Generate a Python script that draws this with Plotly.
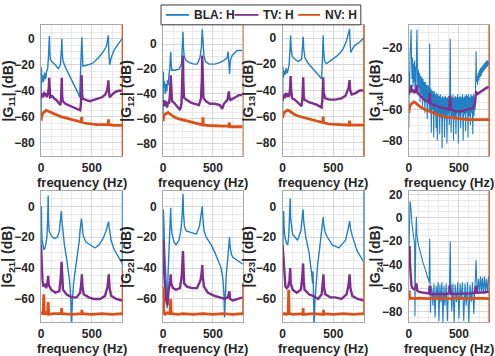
import plotly.graph_objects as go

# ---------------- data (frequency Hz, magnitude dB) ----------------
G11_BLA = [(0,-62),(3,-22),(8,-34),(15,-28),(25,-33),(35,-26),(45,-31),(55,-25),(65,-23),(72,-15),
           (78,-3),(82,2),(86,-10),(92,-16),(110,-18),(140,-20),(170,-23),(190,-20),(200,-9),(205,0),
           (209,-10),(215,-17),(240,-22),(280,-28),(320,-34),(360,-41),(380,-45),(390,-30),(396,-10),(402,1),
           (406,-12),(412,-21),(424,-21),(470,-20),(506,-19),(560,-15),(604,-11),(643,-6),(657,-1),(663,2.5),
           (668,-12),(676,-20),(690,-15),(718,-9),(760,-4),(800,0)]
G11_TV = [(0,-46),(10,-42),(20,-45),(30,-41),(40,-44),(50,-42),(60,-45),(70,-41),(76,-38),(80,-30),(84,-40),
          (90,-45),(110,-44),(130,-46),(150,-47),(170,-49),(190,-51),(198,-45),(204,-30),(208,-44),(214,-48),
          (240,-50),(270,-51),(300,-52),(330,-53),(360,-54),(385,-55),(393,-50),(400,-28),(404,-42),(410,-46),
          (440,-47),(480,-48),(520,-47),(560,-46),(600,-45),(630,-43),(650,-40),(658,-36),(663,-32),(668,-40),
          (676,-45),(700,-43),(730,-41),(760,-40),(800,-40)]
G11_NV = [(0,-63),(8,-59),(20,-57),(35,-56),(50,-55),(65,-55.5),(80,-56),(100,-57),(130,-58),(160,-59),
          (200,-60),(250,-61),(300,-62),(350,-63),(396,-64),(400,-60),(404,-64),(450,-65),(500,-65.5),
          (560,-66),(620,-66),(660,-66),(664,-62),(668,-66),(720,-66.5),(800,-66.5)]

G12_BLA = [(0,-62),(3,-22),(8,-35),(15,-30),(22,-40),(30,-32),(38,-38),(45,-29),(52,-33),(60,-24),(68,-20),
           (74,-10),(77,-6),(81,-15),(88,-21),(120,-21),(160,-20),(185,-16),(193,-5),(200,10),(205,-3),
           (212,-10),(230,-13),(270,-15),(310,-16),(343,-16),(370,-11),(385,-2),(393,12),(400,0),(410,-9),
           (425,-14),(460,-16),(520,-16),(560,-15),(610,-13),(643,-11),(653,-6),(660,-12),(667,-24),(675,-13),
           (693,-9),(743,-5),(800,-5)]
G12_TV = [(0,-50),(10,-45),(20,-50),(30,-46),(40,-51),(50,-47),(60,-48),(70,-40),(77,-25),(82,-40),(90,-46),
          (110,-47),(140,-50),(170,-53),(185,-48),(194,-30),(200,-9),(204,-30),(210,-43),(240,-45),(280,-47),
          (320,-48),(360,-49),(380,-44),(389,-30),(393,-9),(397,-30),(405,-43),(430,-46),(470,-48),(520,-48),
          (570,-49),(593,-52),(610,-48),(645,-45),(655,-41),(660,-38),(666,-43),(677,-45),(720,-43),(760,-41),
          (800,-41)]
G12_NV = [(0,-62),(8,-58),(20,-56.5),(35,-55.5),(50,-55),(65,-56),(80,-57),(110,-58.5),(150,-60),(200,-61),
          (250,-62),(300,-63.5),(350,-64.5),(396,-65),(400,-59),(404,-65),(450,-65.5),(520,-66),(600,-66),
          (660,-66),(664,-63),(668,-66.5),(720,-66.5),(800,-66.5)]

G13_BLA = [(0,-56),(3,-22),(8,-30),(15,-25),(25,-28),(35,-23),(45,-27),(55,-24),(65,-20),(72,-10),(79,2),
           (84,-8),(95,-14),(120,-16),(154,-18),(187,-16),(197,-6),(203,1),(208,-8),(220,-15),(250,-19),
           (285,-22),(320,-25),(351,-28),(384,-31),(393,-15),(400,2),(405,-10),(415,-18),(433,-19.5),(480,-17),
           (531,-14),(570,-11),(597,-8),(630,-2),(645,4),(660,7),(666,-5),(672,-11),(690,-8),(712,-5.5),
           (760,-3),(800,0)]
G13_TV = [(0,-48),(10,-43),(20,-46),(30,-42),(40,-45),(50,-42),(60,-45),(70,-42),(75,-36),(79,-29),(84,-40),
          (95,-46),(120,-47),(150,-49),(187,-52),(196,-45),(203,-30),(208,-44),(215,-47),(260,-49),(300,-50),
          (340,-51),(384,-53),(393,-46),(400,-30),(405,-42),(420,-46),(460,-47),(520,-47),(580,-46),(620,-44),
          (650,-38),(660,-32),(666,-40),(680,-43),(720,-42),(760,-40),(800,-40)]
G13_NV = [(0,-61),(8,-58),(20,-56.5),(35,-55.5),(50,-55),(65,-55.5),(80,-56.5),(110,-58),(150,-59.5),
          (200,-60.5),(250,-61.5),(300,-62.5),(350,-63.5),(396,-64.5),(400,-60),(404,-64.5),(450,-65.5),
          (520,-66),(600,-66.5),(656,-66.5),(660,-63),(664,-66.5),(720,-66.5),(800,-66.5)]

G14_BLA = [(0,-72),(3,-35),(7,-50),(12,-25),(18,-15),(23,-8),(27,-28),(32,-40),(37,-26),(42,-45),(47,-30),
           (52,-42),(57,-28),(62,-48),(67,-32),(72,-45),(77,-20),(81,-8),(85,-30),(90,-50),(95,-34),(100,-46),
           (106,-36),(112,-55),(118,-38),(124,-50),(130,-39),(136,-58),(142,-40),(148,-52),(154,-42),(160,-62),
           (166,-42),(172,-55),(178,-44),(184,-66),(190,-44),(196,-56),(200,-45),(204,-60),(208,-17),(212,-62),
           (218,-46),(224,-75),(230,-47),(236,-60),(242,-48),(248,-78),(254,-48),(260,-62),(266,-50),(272,-72),
           (278,-49),(284,-80),(290,-50),(296,-63),(302,-51),(308,-76),(314,-50),(320,-65),(326,-52),(332,-85),
           (338,-51),(344,-64),(350,-52),(356,-78),(362,-51),(368,-66),(374,-52),(380,-82),(386,-52),(392,-63),
           (398,-51),(404,-70),(409,-50),(413,-14),(417,-55),(422,-75),(428,-52),(434,-64),(440,-50),(446,-80),
           (452,-52),(458,-65),(464,-51),(470,-76),(476,-52),(482,-62),(488,-50),(494,-82),(500,-52),(506,-64),
           (512,-51),(518,-72),(524,-52),(530,-62),(536,-50),(542,-80),(548,-52),(554,-63),(560,-51),(566,-74),
           (572,-50),(578,-62),(584,-51),(590,-78),(596,-50),(602,-64),(608,-52),(614,-70),(620,-50),(626,-62),
           (632,-51),(638,-76),(644,-50),(650,-64),(656,-52),(662,-60),(667,-40),(671,-22),(675,-42),(680,-38),
           (686,-44),(692,-36),(698,-41),(704,-34),(710,-39),(716,-33),(722,-38),(728,-32),(734,-36),(740,-31),
           (746,-35),(752,-30),(758,-34),(764,-29),(770,-33),(776,-28),(782,-32),(788,-28),(794,-31),(800,-29)]
G14_TV = [(0,-50),(8,-47),(15,-49),(23,-44),(30,-48),(40,-47),(50,-49),(60,-48),(70,-49),(80,-44),(86,-49),
          (100,-50),(130,-52),(160,-54),(200,-55),(208,-49),(214,-56),(250,-57),(300,-58),(350,-59),(400,-60),
          (413,-51),(420,-60),(460,-61),(520,-61),(580,-60),(640,-59),(660,-56),(671,-48),(680,-50),(700,-49),
          (740,-47),(770,-46),(800,-45)]
G14_NV = [(0,-62),(8,-58),(20,-56.5),(35,-55.5),(50,-55),(65,-55.5),(80,-56.5),(110,-58),(150,-59.5),
          (200,-61),(250,-62.5),(300,-63.5),(350,-64.5),(400,-65),(450,-65.5),(520,-66),(600,-66.5),
          (700,-66.5),(800,-66.5)]

G21_BLA = [(0,-30),(3,0),(6,-15),(10,-22),(18,-26),(28,-28),(40,-27),(50,-24),(58,-20),(64,-10),(70,7),
           (74,-10),(80,-16),(100,-19),(130,-21),(160,-20),(180,-16),(192,-8),(200,-3),(206,-10),(215,-18),
           (230,-25),(250,-33),(265,-40),(280,-48),(292,-58),(300,-80),(308,-62),(320,-50),(340,-40),(360,-31),
           (375,-23),(388,-13),(398,-8),(404,-12),(415,-19),(440,-23),(480,-25),(530,-27),(570,-25),(610,-21),
           (640,-16),(655,-12),(665,-10),(672,-14),(690,-22),(720,-28),(760,-33),(800,-37)]
G21_TV = [(0,-25),(4,-32),(8,-42),(14,-48),(22,-52),(35,-50),(50,-53),(62,-50),(70,-45),(76,-51),(100,-54),
          (140,-56),(180,-55),(194,-46),(202,-36),(208,-48),(216,-54),(250,-57),(300,-59),(350,-59),(385,-56),
          (396,-50),(402,-44),(408,-52),(420,-57),(470,-59),(520,-60),(580,-60),(630,-58),(655,-52),(667,-44),
          (675,-53),(690,-58),(740,-60),(800,-61)]
G21_NV = [(0,-70),(10,-69),(20,-70),(27,-57),(32,-70),(50,-69),(65,-70),(70,-62),(75,-70),(120,-69.5),
          (200,-69.5),(203,-66),(206,-69.5),(300,-70),(400,-69.5),(402,-67),(404,-69.5),(500,-70),(600,-69.5),
          (700,-70),(800,-69.5)]

G22_BLA = [(0,-30),(4,-2),(8,-10),(14,-25),(22,-35),(30,-45),(38,-58),(43,-66),(50,-45),(60,-28),(70,-12),
           (77,-1),(82,-12),(90,-18),(110,-23),(130,-25),(160,-22),(180,-15),(192,-5),(200,8),(206,-5),
           (215,-13),(233,-16),(280,-17),(333,-18),(365,-13),(382,-6),(393,0),(400,-8),(412,-16),(433,-20),
           (483,-25),(520,-30),(550,-35),(583,-40),(600,-47),(610,-56),(617,-72),(625,-55),(633,-45),(650,-33),
           (660,-24),(666,-20),(672,-26),(685,-31),(700,-33),(740,-35),(800,-37.5)]
G22_TV = [(0,-35),(5,-22),(9,-40),(16,-50),(25,-58),(35,-62),(45,-64),(55,-55),(65,-52),(72,-48),(77,-44),
          (82,-50),(100,-53),(130,-54),(170,-53),(188,-45),(200,-29),(205,-42),(212,-50),(240,-52),(290,-53),
          (340,-53),(375,-48),(388,-43),(393,-38),(398,-45),(410,-52),(450,-56),(516,-58),(570,-59),(617,-60),
          (650,-59),(660,-57),(666,-55),(672,-60),(700,-61),(750,-60),(800,-59)]
G22_NV = [(0,-70),(5,-52),(8,-69),(20,-70),(40,-69),(70,-69.5),(77,-60),(82,-69.5),(150,-70),(200,-69.5),
          (300,-70),(400,-69.5),(500,-70),(600,-69.5),(700,-70),(800,-69.5)]

G23_BLA = [(0,-35),(5,-10),(10,-3),(16,-15),(26,-21),(40,-24),(50,-25),(60,-20),(68,-10),(75,5),(80,-8),
           (98,-18),(147,-22),(180,-16),(192,-8),(202,-2),(208,-10),(229,-20),(261,-30),(278,-38),(290,-46),
           (296,-50),(300,-42),(304,-55),(310,-80),(318,-62),(330,-50),(345,-38),(360,-30),(375,-22),(392,-12),
           (400,-7),(406,-12),(420,-17),(441,-20),(490,-25),(555,-27),(620,-22),(645,-15),(660,-9.6),(668,-14),
           (686,-19),(735,-29),(770,-33),(800,-36)]
G23_TV = [(0,-25),(5,-30),(10,-40),(18,-48),(28,-52),(40,-53),(55,-52),(68,-48),(75,-40),(80,-50),(100,-54),
          (140,-56),(180,-54),(194,-46),(202,-37),(208,-48),(216,-54),(260,-57),(300,-58),(350,-60),(385,-57),
          (395,-50),(402,-44),(408,-52),(420,-57),(470,-59),(520,-59),(580,-60),(630,-57),(650,-51),(660,-44),
          (668,-53),(686,-58),(740,-60),(800,-61)]
G23_NV = [(0,-70),(20,-69.5),(40,-70),(55,-69),(60,-54),(65,-69.5),(100,-70),(200,-69.5),(202,-66),(205,-70),
          (300,-69.5),(400,-70),(402,-67),(405,-69.5),(500,-70),(600,-69.5),(700,-70),(800,-69.5)]

G24_BLA = [(0,-35),(6,5),(12,14),(18,11),(24,2),(32,-6),(42,-13),(52,-18),(58,-22),(61,-84),(64,-25),(70,-12),
           (76,1),(80,-14),(90,-21),(105,-27),(120,-32),(140,-38),(160,-43),(180,-48),(195,-52),(203,-55),
           (208,-18),(212,-58),(216,-81),(222,-58),(232,-62),(240,-75),(250,-56),(262,-85),(272,-58),(282,-70),
           (292,-55),(300,-88),(310,-57),(320,-72),(330,-55),(340,-90),(350,-58),(360,-75),(372,-56),(385,-88),
           (395,-58),(405,-62),(413,-20),(418,-58),(428,-80),(440,-56),(452,-90),(462,-57),(475,-72),(488,-55),
           (500,-86),(512,-56),(522,-70),(535,-55),(548,-88),(560,-56),(572,-75),(585,-55),(598,-90),(610,-57),
           (622,-72),(635,-55),(648,-82),(660,-58),(666,-50),(671,-36),(676,-52),(685,-65),(695,-52),(705,-64),
           (715,-50),(725,-63),(735,-51),(745,-65),(755,-50),(765,-63),(775,-52),(785,-64),(795,-50),(800,-55)]
G24_TV = [(0,-40),(5,-30),(8,-24),(12,-40),(18,-53),(26,-58),(36,-60),(50,-61),(66,-60),(76,-56),(82,-62),
          (100,-63),(150,-64),(200,-64.5),(208,-58),(214,-65),(260,-65),(320,-65),(380,-65),(408,-64),(413,-57),
          (418,-65),(480,-65),(540,-65),(600,-64.5),(660,-64),(671,-58),(678,-64),(720,-64),(760,-63.5),(800,-63)]
G24_NV = [(0,-69),(4,-62),(8,-69),(30,-68.5),(60,-69),(100,-68.5),(200,-69),(300,-68.5),(400,-69),
          (500,-68.5),(600,-69),(700,-68.5),(800,-69)]

PANEL_NAMES = ["11", "12", "13", "14", "21", "22", "23", "24"]
PANEL_DATA = [(G11_BLA, G11_TV, G11_NV), (G12_BLA, G12_TV, G12_NV), (G13_BLA, G13_TV, G13_NV),
              (G14_BLA, G14_TV, G14_NV), (G21_BLA, G21_TV, G21_NV), (G22_BLA, G22_TV, G22_NV),
              (G23_BLA, G23_TV, G23_NV), (G24_BLA, G24_TV, G24_NV)]
Y_RANGES = [[-90, 10.5], [-90, 15.5], [-90, 10], [-90, -5], [-75, 10], [-75, 10], [-75, 10], [-89, 23]]
X_RANGE = [0, 800]
SERIES = ["BLA: H", "TV: H", "NV: H"]

# ---------------- layout / style ----------------
W, H = 495, 356
COLS = [(38.3, 120), (161, 241.3), (281.3, 363), (408.3, 489)]
ROWS = [(22.2, 154.2), (189.5, 321.8)]
YLAB_X = [6, 125, 247.5, 376]
XTITLE_DY = 26.5
COLORS = ["#2380c4", "#7E2F8E", "#D95319"]
WIDTHS = [1.4, 2.4, 2.8]
NOISY_BLA_WIDTH = 1.1
FONT = "Liberation Sans, Arial, sans-serif"
TXT = "#262626"
# right-edge coloured segments (colour, y0, y1 in axis-domain units)
EDGE = [[(COLORS[2], 0, 1)], [("#e8a080", 0, 1)], [(COLORS[2], 0, 1)], [(COLORS[2], 0, 1)],
        [("#4a9ad4", 0.4, 1), (COLORS[2], 0.05, 0.4)], [(COLORS[2], 0.05, 0.3)],
        [("#4a9ad4", 0.45, 1), (COLORS[2], 0.05, 0.45)], [(COLORS[2], 0, 1)]]


def px(x):
    return x / W


def py(y):
    return 1 - y / H


fig = go.Figure()
shapes, annotations = [], []
for k, (name, data) in enumerate(zip(PANEL_NAMES, PANEL_DATA)):
    r, c = divmod(k, 4)
    sfx = "" if k == 0 else str(k + 1)
    for j, (series, label, color, width) in enumerate(zip(data, SERIES, COLORS, WIDTHS)):
        if j == 0 and c == 3:
            width = NOISY_BLA_WIDTH
        f, db = zip(*series)
        fig.add_trace(go.Scatter(x=list(f), y=list(db), mode="lines", name=label,
                                 line=dict(color=color, width=width),
                                 xaxis="x" + sfx, yaxis="y" + sfx, showlegend=False, hoverinfo="skip"))
    x0, x1 = COLS[c]
    y0, y1 = ROWS[r]
    common = dict(showline=True, mirror=True, linecolor="#a9a9a9", linewidth=1, zeroline=False,
                  showgrid=True, gridcolor="#d6d6d6", gridwidth=1, tickcolor="rgba(0,0,0,0)",
                  tickfont=dict(family=FONT, size=12, color=TXT, weight="bold"))
    fig.update_layout(**{
        "xaxis" + sfx: dict(domain=[px(x0), px(x1)], range=X_RANGE, anchor="y" + sfx,
                            tick0=0, dtick=500, ticks="outside", ticklen=1,
                            minor=dict(dtick=100, showgrid=True, gridcolor="#e9e9e9"), **common),
        "yaxis" + sfx: dict(domain=[py(y1), py(y0)], range=Y_RANGES[k], anchor="x" + sfx,
                            tick0=0, dtick=20, ticks="outside", ticklen=3,
                            minor=dict(dtick=5, showgrid=True, gridcolor="#e9e9e9"), **common),
    })
    for col, a, b in EDGE[k]:
        shapes.append(dict(type="line", xref="x" + sfx + " domain", yref="y" + sfx + " domain",
                           x0=1, x1=1, y0=a, y1=b, line=dict(color=col, width=1.2)))
    annotations.append(dict(text="<b>frequency (Hz)</b>", xref="paper", yref="paper",
                            x=px((x0 + x1) / 2), y=py(y1 + XTITLE_DY), xanchor="center", yanchor="middle",
                            showarrow=False, font=dict(family=FONT, size=13, color=TXT)))
    annotations.append(dict(text="<b>|G<sub>%s</sub>| (dB)</b>" % name, xref="paper", yref="paper",
                            x=px(YLAB_X[c]), y=py((y0 + y1) / 2), xanchor="center", yanchor="middle",
                            textangle=-90, showarrow=False, font=dict(family=FONT, size=14, color=TXT)))

# legend box drawn by hand
LEG_BOX = (159, 2, 360, 22)
LEG_LINES = [(164, 187), (233, 257), (297, 319)]
LEG_TEXT_X = [190, 260, 322]
shapes.append(dict(type="rect", xref="paper", yref="paper", x0=px(LEG_BOX[0]), x1=px(LEG_BOX[2]),
                   y0=py(LEG_BOX[3]), y1=py(LEG_BOX[1]), fillcolor="white",
                   line=dict(color="#3a3a3a", width=1), layer="above"))
ly = (LEG_BOX[1] + LEG_BOX[3]) / 2
for (a, b), tx, label, color in zip(LEG_LINES, LEG_TEXT_X, SERIES, COLORS):
    shapes.append(dict(type="line", xref="paper", yref="paper", x0=px(a), x1=px(b), y0=py(ly), y1=py(ly),
                       line=dict(color=color, width=1.8), layer="above"))
    annotations.append(dict(text="<b>%s</b>" % label, xref="paper", yref="paper", x=px(tx), y=py(ly),
                            xanchor="left", yanchor="middle", showarrow=False,
                            font=dict(family=FONT, size=12, color=TXT)))

fig.update_layout(width=W, height=H, margin=dict(l=0, r=0, t=0, b=0), paper_bgcolor="white",
                  plot_bgcolor="white", showlegend=False, shapes=shapes, annotations=annotations)
fig.write_html("out.html")
